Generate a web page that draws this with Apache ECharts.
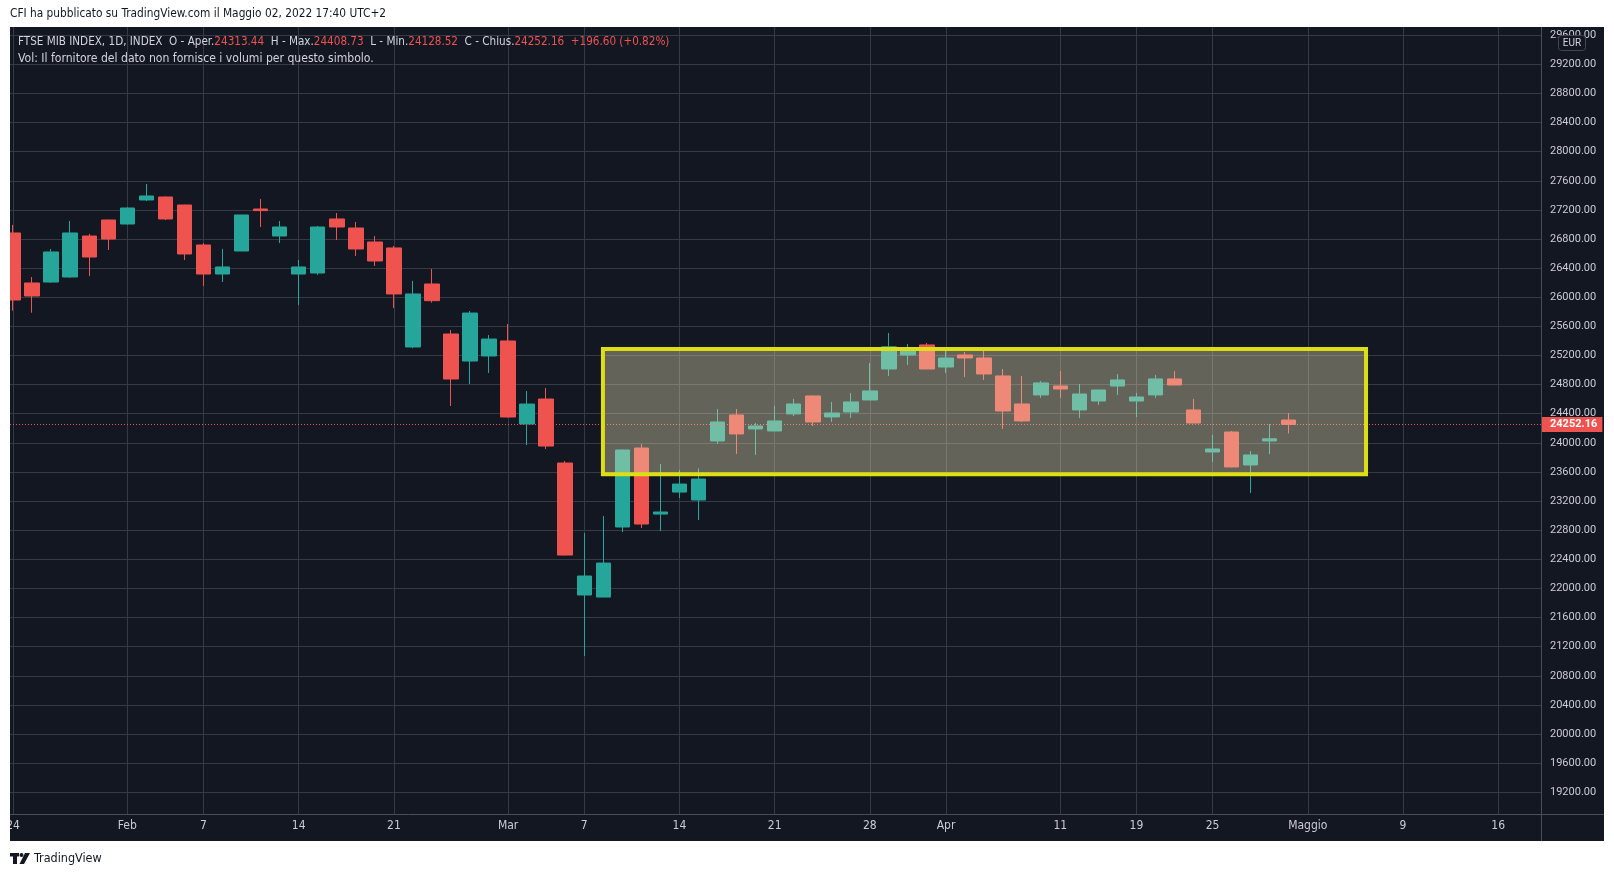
<!DOCTYPE html>
<html>
<head>
<meta charset="utf-8">
<title>FTSE MIB INDEX</title>
<script src="https://cdn.jsdelivr.net/npm/echarts@6/dist/echarts.min.js"></script>
<style>
  html, body { margin: 0; padding: 0; background: #ffffff; }
  #myCharts { width: 1614px; height: 877px; }
</style>
</head>
<body>
<div id="myCharts"></div>
<script>
// trading days shown on the chart (Jan 24 -> Apr 29 2022)
const dates = [
  '2022-01-24', '2022-01-25', '2022-01-26', '2022-01-27', '2022-01-28', '2022-01-31',
  '2022-02-01', '2022-02-02', '2022-02-03', '2022-02-04', '2022-02-07', '2022-02-08', '2022-02-09', '2022-02-10', '2022-02-11',
  '2022-02-14', '2022-02-15', '2022-02-16', '2022-02-17', '2022-02-18', '2022-02-21', '2022-02-22', '2022-02-23', '2022-02-24', '2022-02-25', '2022-02-28',
  '2022-03-01', '2022-03-02', '2022-03-03', '2022-03-04', '2022-03-07', '2022-03-08', '2022-03-09', '2022-03-10', '2022-03-11',
  '2022-03-14', '2022-03-15', '2022-03-16', '2022-03-17', '2022-03-18', '2022-03-21', '2022-03-22', '2022-03-23', '2022-03-24', '2022-03-25',
  '2022-03-28', '2022-03-29', '2022-03-30', '2022-03-31',
  '2022-04-01', '2022-04-04', '2022-04-05', '2022-04-06', '2022-04-07', '2022-04-08', '2022-04-11', '2022-04-12', '2022-04-13', '2022-04-14',
  '2022-04-19', '2022-04-20', '2022-04-21', '2022-04-22', '2022-04-25', '2022-04-26', '2022-04-27', '2022-04-28', '2022-04-29'
];
const opens = [
  26883, 26196, 26209, 26278, 26841, 27061,
  27006, 27336, 27377, 27267, 26718, 26319, 26635, 27212, 26841, 26319, 26333, 27075, 26951, 26759, 26677, 25317, 26182, 25495, 25124, 25193,
  25399, 24259, 24602, 23723, 21910, 21882, 22844, 23929, 23022, 23324, 23215, 24026, 24383, 24191, 24163, 24397, 24644, 24356, 24424, 24589, 25015, 25207, 25345,
  25042, 25207, 25166, 24919, 24534, 24658, 24781, 24452, 24575, 24781, 24575, 24658, 24878, 24452, 23875, 24149, 23696, 24026, 24313.44
];
const closes = [
  25962, 26017, 26622, 26883, 26553, 26800,
  27226, 27391, 27075, 26594, 26319, 26416, 27130, 27190, 26965, 26416, 26965, 26965, 26663, 26498, 26045, 26045, 25953, 24877, 25783, 25426,
  24355, 24533, 23956, 22459, 22171, 22349, 23902, 22885, 23050, 23434, 23503, 24287, 24122, 24232, 24301, 24534, 24287, 24410, 24562, 24713, 25319, 25303, 25015,
  25166, 25166, 24946, 24438, 24301, 24823, 24740, 24671, 24726, 24864, 24630, 24878, 24795, 24273, 23916, 23669, 23834, 24055.56, 24252.16
];
const lows = [
  25816, 25788, 26200, 26269, 26292, 26649,
  27000, 27322, 27061, 26512, 26155, 26209, 26635, 26965, 26745, 25894, 26306, 26786, 26567, 26429, 25852, 25300, 25926, 24506, 24808, 24959,
  24350, 23970, 23915, 22455, 21072, 21880, 22775, 22830, 22789, 23242, 22940, 23985, 23847, 23834, 24160, 24369, 24232, 24287, 24342, 24585, 24919, 25070, 25010,
  24960, 24905, 24864, 24191, 24287, 24617, 24617, 24342, 24520, 24658, 24355, 24617, 24790, 24270, 23737, 23665, 23312, 23847, 24128.52
];
const highs = [
  26993, 26278, 26663, 27047, 26869, 27065,
  27235, 27556, 27385, 27270, 26745, 26663, 27130, 27350, 27047, 26512, 26979, 27157, 27034, 26841, 26704, 26224, 26388, 25550, 25811, 25481,
  25632, 24712, 24753, 23750, 22761, 22995, 23910, 23984, 23709, 23627, 23650, 24465, 24465, 24273, 24507, 24603, 24650, 24562, 24685, 25097, 25509, 25358, 25372,
  25270, 25248, 25290, 25015, 24919, 24850, 24987, 24809, 24730, 24946, 24685, 24933, 24987, 24603, 24108, 24163, 23888, 24259, 24408.73
];

// time scale labels, as bar index -> text (future bars continue the weekday count)
const xTickIndex = [0, 6, 10, 15, 20, 26, 30, 35, 40, 45, 49, 55, 59, 63, 68, 73, 78];
const xTickLabels = ['24', 'Feb', '7', '14', '21', 'Mar', '7', '14', '21', '28', 'Apr', '11', '19', '25', 'Maggio', '9', '16'];

const yTicks = [
  19200, 19600, 20000, 20400, 20800, 21200, 21600, 22000, 22400, 22800, 23200, 23600, 24000,
  24400, 24800, 25200, 25600, 26000, 26400, 26800, 27200, 27600, 28000, 28400, 28800, 29200, 29600
];

// range box drawn on the chart (bar index / price)
const boxFrom = 30.98;
const boxTo = 71.06;
const boxTop = 25290;
const boxBottom = 23570;

const candleData = dates.map((d, i) => [i, opens[i], closes[i], lows[i], highs[i]]);
const last = dates.length - 1;
const lastPrice = closes[last];
const change = closes[last] - closes[last - 1];
const changePct = change / closes[last - 1] * 100;

const narrow = "'Liberation Sans Narrow', 'DejaVu Sans Condensed', 'Roboto Condensed', Roboto, sans-serif";
const UP = '#26a69a';
const DOWN = '#ef5350';
const headFont = '11.6px ' + narrow;

const headerText =
  '{l|FTSE MIB INDEX, 1D, INDEX  O - Aper.}{v|' + opens[last].toFixed(2) + '}' +
  '{l|  H - Max.}{v|' + highs[last].toFixed(2) + '}' +
  '{l|  L - Min.}{v|' + lows[last].toFixed(2) + '}' +
  '{l|  C - Chius.}{v|' + closes[last].toFixed(2) + '}' +
  '{v|  ' + (change >= 0 ? '+' : '') + change.toFixed(2) + ' (' + (changePct >= 0 ? '+' : '') + changePct.toFixed(2) + '%)}';

const option = {
  animation: false,
  backgroundColor: '#ffffff',
  grid: {
    left: 10,
    top: 27,
    right: 73,
    bottom: 63,
    outerBoundsMode: 'none',
  },
  xAxis: {
    type: 'value',
    min: -0.163,
    max: 80.25,
    axisLine: { show: false },
    axisTick: { show: false, customValues: xTickIndex },
    axisLabel: {
      customValues: xTickIndex,
      formatter: (value) => {
        const k = xTickIndex.indexOf(Math.round(value));
        return k >= 0 ? xTickLabels[k] : '';
      },
      color: '#c9ccd4',
      fontSize: 12,
      fontFamily: narrow,
      margin: 6,
    },
    splitLine: {
      show: true,
      lineStyle: { color: '#363a45', width: 1 },
    },
  },
  yAxis: {
    type: 'value',
    position: 'right',
    min: 18902,
    max: 29712,
    axisLine: { show: false },
    axisTick: { show: false, customValues: yTicks },
    axisLabel: {
      customValues: yTicks,
      formatter: (value) => value.toFixed(2),
      color: '#c9ccd4',
      fontSize: 11,
      fontFamily: 'Roboto, sans-serif',
      margin: 9,
    },
    splitLine: {
      show: true,
      lineStyle: { color: '#363a45', width: 1 },
    },
  },
  series: [
    {
      type: 'candlestick',
      data: candleData,
      barWidth: 15,
      z: 2,
      itemStyle: {
        color: UP,
        color0: DOWN,
        borderColor: UP,
        borderColor0: DOWN,
        borderWidth: 1,
      },
      markLine: {
        silent: true,
        z: 3,
        symbol: ['none', 'none'],
        lineStyle: { color: DOWN, type: [1, 2], width: 1 },
        label: {
          show: true,
          position: 'end',
          distance: 0,
          formatter: lastPrice.toFixed(2),
          backgroundColor: DOWN,
          color: '#ffffff',
          fontWeight: 'bold',
          fontSize: 11,
          fontFamily: 'Roboto, sans-serif',
          padding: [2, 5, 2, 9],
        },
        data: [{ yAxis: lastPrice }],
      },
      markArea: {
        silent: true,
        z: 4,
        itemStyle: {
          color: 'rgba(239, 230, 186, 0.37)',
          borderColor: '#dede14',
          borderWidth: 4,
        },
        label: { show: false },
        data: [[{ coord: [boxFrom, boxTop] }, { coord: [boxTo, boxBottom] }]],
      },
    },
  ],
  graphic: [
    // chart panel
    { type: 'rect', z: -10, silent: true, shape: { x: 10, y: 27, width: 1594, height: 814 }, style: { fill: '#131722' } },
    // white margin left of the panel (bars are cut at the panel edge)
    { type: 'rect', z: 20, silent: true, shape: { x: 0, y: 20, width: 10, height: 830 }, style: { fill: '#ffffff' } },
    // pane separators
    { type: 'line', z: 10, silent: true, shape: { x1: 10, y1: 814.5, x2: 1604, y2: 814.5 }, style: { stroke: '#4a4e5a', lineWidth: 1 } },
    { type: 'line', z: 10, silent: true, shape: { x1: 1541.5, y1: 27, x2: 1541.5, y2: 841 }, style: { stroke: '#4a4e5a', lineWidth: 1 } },
    // currency badge
    { type: 'rect', z: 10, silent: true, shape: { x: 1558.5, y: 35.5, width: 27, height: 15, r: 3 }, style: { fill: '#131722', stroke: '#434651', lineWidth: 1 } },
    { type: 'text', z: 11, silent: true, x: 1572, y: 43.5, style: { text: 'EUR', fill: '#d1d4dc', font: '10px Roboto, sans-serif', align: 'center', verticalAlign: 'middle' } },
    // publication line
    { type: 'text', z: 10, silent: true, x: 10, y: 13.5, style: { text: 'CFI ha pubblicato su TradingView.com il Maggio 02, 2022 17:40 UTC+2', fill: '#131722', font: '11.8px ' + narrow, verticalAlign: 'middle' } },
    // legend lines
    {
      type: 'text', z: 10, silent: true, x: 18, y: 41.5,
      style: {
        text: headerText,
        font: headFont,
        verticalAlign: 'middle',
        rich: {
          l: { fill: '#d1d4dc', font: headFont },
          v: { fill: DOWN, font: headFont },
        },
      },
    },
    { type: 'text', z: 10, silent: true, x: 18, y: 58.5, style: { text: 'Vol: Il fornitore del dato non fornisce i volumi per questo simbolo.', fill: '#d1d4dc', font: '12.1px ' + narrow, verticalAlign: 'middle' } },
    // TradingView logo
    { type: 'rect', z: 10, silent: true, shape: { x: 10, y: 853, width: 9, height: 3.5 }, style: { fill: '#131722' } },
    { type: 'rect', z: 10, silent: true, shape: { x: 13, y: 853, width: 4, height: 11 }, style: { fill: '#131722' } },
    { type: 'circle', z: 10, silent: true, shape: { cx: 21.5, cy: 855, r: 2 }, style: { fill: '#131722' } },
    { type: 'polygon', z: 10, silent: true, shape: { points: [[25, 853], [30, 853], [24, 864], [19.5, 864]] }, style: { fill: '#131722' } },
    { type: 'text', z: 10, silent: true, x: 34, y: 858.5, style: { text: 'TradingView', fill: '#131722', font: '12.5px ' + narrow, verticalAlign: 'middle' } },
  ],
};

const myChart = echarts.init(document.getElementById('myCharts'), null, { renderer: 'canvas' });
myChart.setOption(option);
window.addEventListener('resize', () => myChart.resize());
</script>
</body>
</html>
